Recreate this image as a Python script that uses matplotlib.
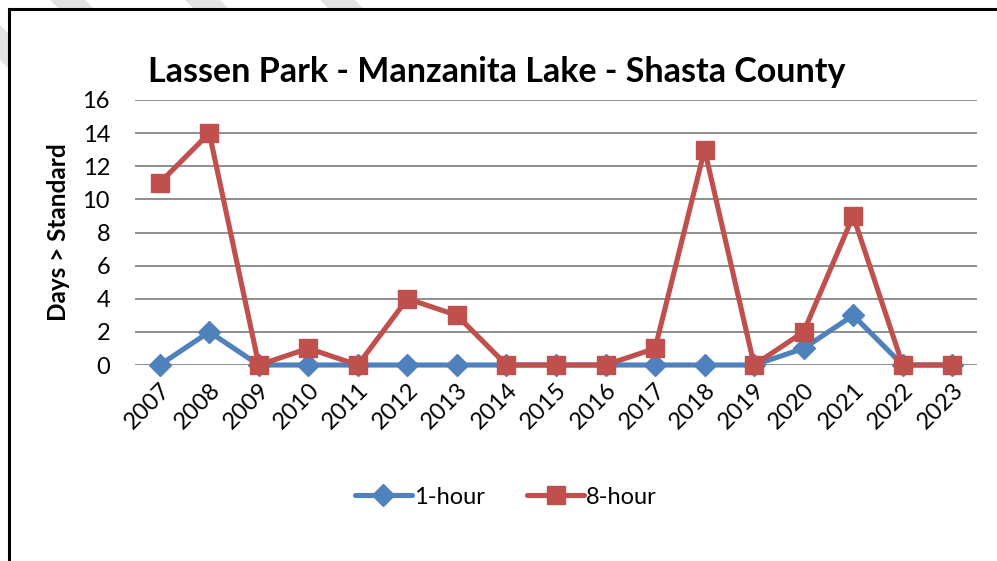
import matplotlib
matplotlib.use("Agg")
import matplotlib.pyplot as plt
from matplotlib.patches import Polygon, Rectangle
from matplotlib.lines import Line2D

years = ["2007", "2008", "2009", "2010", "2011", "2012", "2013", "2014", "2015",
         "2016", "2017", "2018", "2019", "2020", "2021", "2022", "2023"]
one_hour = [0, 2, 0, 0, 0, 0, 0, 0, 0, 0, 0, 0, 0, 1, 3, 0, 0]
eight_hour = [11, 14, 0, 1, 0, 4, 3, 0, 0, 0, 1, 13, 0, 2, 9, 0, 0]
yticks = [0, 2, 4, 6, 8, 10, 12, 14, 16]

plt.rcParams['font.family'] = ['Lato', 'DejaVu Sans']

W, H = 997, 561
fig = plt.figure(figsize=(W / 100, H / 100), dpi=100)

def fx(px):
    return px / W

def fy(py):
    return 1 - py / H

# faint diagonal watermark stripes outside the chart frame
stripe_col = "#e2e2e2"
for x0 in [-60, 50, 185, 320]:
    pts = [(fx(x0), fy(0)), (fx(x0 + 35), fy(0)), (fx(x0 + 35 + 80), fy(80)), (fx(x0 + 80), fy(80))]
    fig.patches.append(Polygon(pts, closed=True, transform=fig.transFigure,
                               facecolor=stripe_col, edgecolor="none", zorder=-3))
# white chart area covering stripes
fig.patches.append(Rectangle((fx(9), 0), 1 - fx(9), fy(8), transform=fig.transFigure,
                             facecolor="white", edgecolor="none", zorder=-2))
# frame lines (top and left)
fig.lines.append(Line2D([fx(9), 1.0], [fy(9), fy(9)], transform=fig.transFigure,
                        color="black", lw=2.2, zorder=2))
fig.lines.append(Line2D([fx(9), fx(9)], [fy(9), 0], transform=fig.transFigure,
                        color="black", lw=2.2, zorder=2))

ax = fig.add_axes([fx(135), fy(365), fx(977) - fx(135), fy(100) - fy(365)])
ax.set_facecolor("none")
x = list(range(len(years)))
blue = "#4F81BD"
red = "#C0504D"
ax.plot(x, one_hour, color=blue, lw=3.7, marker="D", markersize=11,
        markeredgecolor=blue, label="1-hour", zorder=3, solid_capstyle="round",
        clip_on=False)
ax.plot(x, eight_hour, color=red, lw=3.7, marker="s", markersize=13.5,
        markeredgecolor=red, label="8-hour", zorder=4, solid_capstyle="round",
        clip_on=False)

ax.set_xlim(-0.5, len(years) - 0.5)
ax.set_ylim(0, 16)
ax.set_yticks(yticks)
ax.set_yticklabels([str(v) for v in yticks], fontsize=17)
ax.set_xticks(x)
ax.set_xticklabels(years, fontsize=17, rotation=45, ha="right", va="top",
                   rotation_mode="anchor")
ax.tick_params(axis="y", length=0, pad=18)
ax.tick_params(axis="x", length=0, pad=10)
for s in ax.spines.values():
    s.set_visible(False)
ax.yaxis.grid(True, color="#868686", lw=1.3)
ax.set_axisbelow(True)
ax.set_ylabel("Days > Standard", fontsize=17.5, fontweight="bold")
ax.yaxis.set_label_coords(-0.077, 0.5)

fig.text(fx(497), fy(72), "Lassen Park - Manzanita Lake - Shasta County",
         fontsize=24.5, fontweight="bold", ha="center", va="center")

fig.legend(loc="center", bbox_to_anchor=(fx(506), fy(497)), ncol=2, frameon=False,
           fontsize=17, handlelength=2.4, columnspacing=1.8, handletextpad=0.1)

fig.savefig("out.png", dpi=100)
